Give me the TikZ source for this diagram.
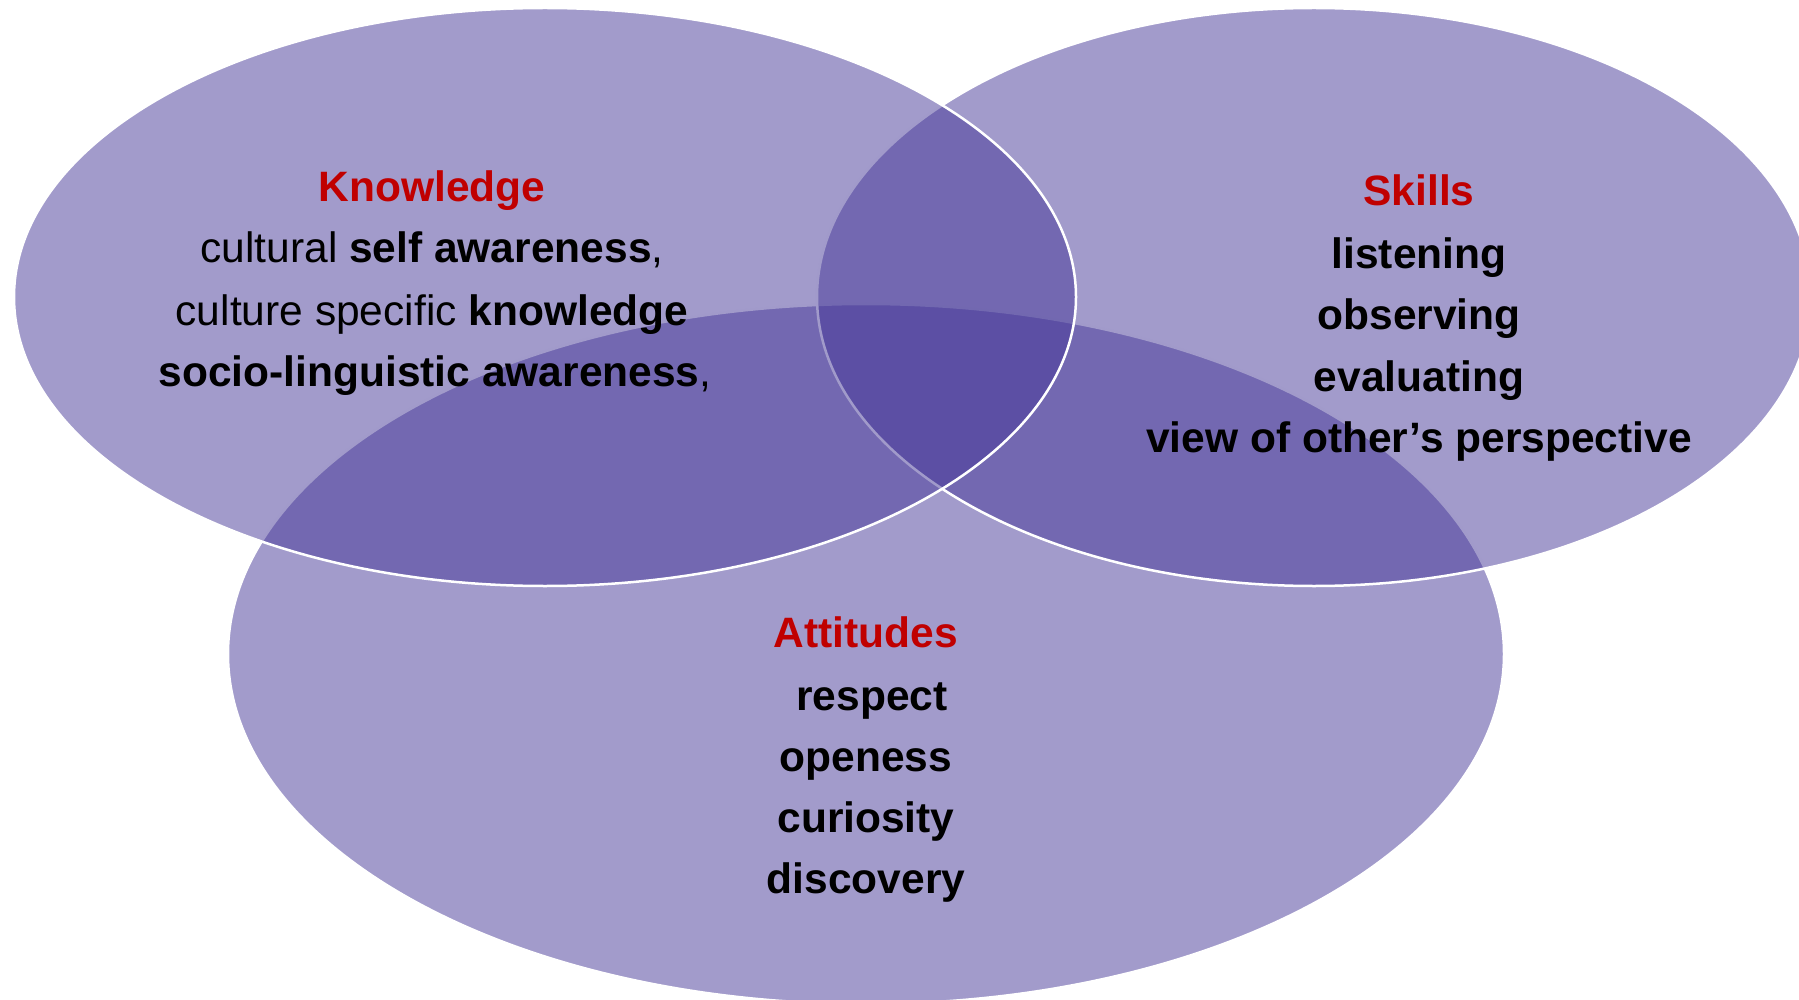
\documentclass[tikz,border=0pt]{standalone}
\usepackage{fontspec}
\setmainfont{Liberation Sans}
\definecolor{venn}{RGB}{69,55,151}
\definecolor{headred}{RGB}{192,0,0}
\begin{document}
\begin{tikzpicture}[x=1pt,y=-1pt,
  vennset/.style={fill=venn, fill opacity=0.5, draw=white, line width=2.5pt},
  txt/.style={anchor=base, inner sep=0pt, text=black, font=\fontsize{42.5}{61}\selectfont},
  head/.style={txt, text=headred, font=\fontsize{42.5}{61}\selectfont\bfseries},
  bold/.style={txt, font=\fontsize{42.5}{61}\selectfont\bfseries}]
\useasboundingbox (0,0) rectangle (1799,1000);
\clip (0,0) rectangle (1799,1000);
% circles: bottom, right, left (drawing order gives the white outlines)
\path[vennset] (866,654) ellipse [x radius=638pt, y radius=350pt];
\path[vennset] (1314,297) ellipse [x radius=497pt, y radius=289pt];
\path[vennset] (545,297) ellipse [x radius=531pt, y radius=289pt];
% Knowledge
\node[head] (k0) at (432,202) {Knowledge};
\node[txt]  (k1) at (432,263) {cultural \textbf{self awareness},};
\node[txt]  (k2) at (432,325) {culture specific \textbf{knowledge}};
\node[txt]  (k3) at (435,386) {\textbf{socio-linguistic awareness},};
% Skills
\node[head] (s0) at (1419,206) {Skills};
\node[bold] (s1) at (1419,269) {listening};
\node[bold] (s2) at (1419,330) {observing};
\node[bold] (s3) at (1419,391) {evaluating};
\node[bold] (s4) at (1419,452) {view of other’s perspective};
% Attitudes
\node[head] (a0) at (866,647) {Attitudes};
\node[bold] (a1) at (872,710) {respect};
\node[bold] (a2) at (866,771) {openess};
\node[bold] (a3) at (866,832) {curiosity};
\node[bold] (a4) at (866,893) {discovery};
\end{tikzpicture}
\end{document}
